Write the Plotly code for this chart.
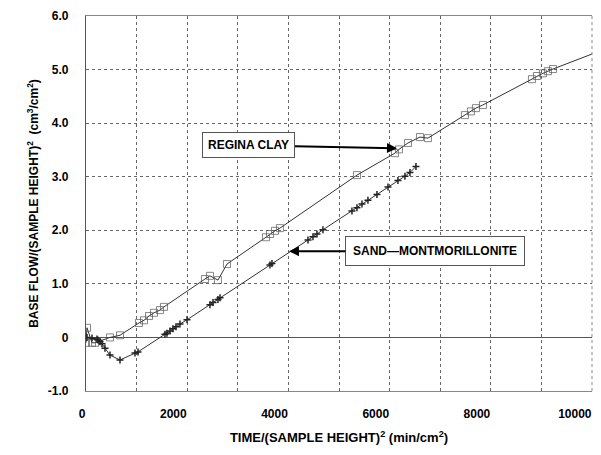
import plotly.graph_objects as go

# Regina clay: base flow normalised by sample height squared
clay_time = [0, 20, 119, 178, 474, 672, 1047, 1146, 1245, 1344, 1462, 1541,
             2351, 2450, 2608, 2786, 3557, 3636, 3735, 3833, 5355, 6106, 6185,
             6363, 6600, 6758, 7489, 7608, 7706, 7845, 8813, 8912, 9030, 9129,
             9228, 10000]
clay_flow = [-0.10, 0.18, -0.10, -0.10, 0.00, 0.04, 0.27, 0.32, 0.40, 0.46, 0.51,
             0.57, 1.09, 1.15, 1.07, 1.37, 1.87, 1.93, 1.99, 2.04, 3.03, 3.44,
             3.51, 3.63, 3.74, 3.72, 4.15, 4.22, 4.28, 4.34, 4.82, 4.88, 4.93,
             4.97, 5.01, 5.29]

# Sand-montmorillonite mixture
sand_time = [20, 119, 217, 237, 277, 316, 375, 474, 672, 968, 1028, 1561, 1601,
             1660, 1719, 1778, 1857, 1996, 2450, 2510, 2608, 2648, 3636, 3675,
             4387, 4486, 4565, 4683, 5256, 5355, 5454, 5572, 5750, 5968, 6165,
             6303, 6402, 6521]
sand_flow = [0.00, -0.01, -0.03, -0.05, -0.08, -0.12, -0.20, -0.33, -0.42, -0.29,
             -0.27, 0.06, 0.08, 0.12, 0.16, 0.20, 0.25, 0.33, 0.61, 0.65, 0.71,
             0.74, 1.35, 1.38, 1.82, 1.88, 1.93, 2.01, 2.36, 2.42, 2.49, 2.56,
             2.67, 2.81, 2.93, 3.01, 3.08, 3.19]

# grid every 1000, labels every 2000
x_ticks = [0, 1000, 2000, 3000, 4000, 5000, 6000, 7000, 8000, 9000, 10000]
x_tick_text = ["0", "", "2000", "", "4000", "", "6000", "", "8000", "", "10000"]
y_ticks = [-1, 0, 1, 2, 3, 4, 5, 6]
y_tick_text = ["-1.0", "0", "1.0", "2.0", "3.0", "4.0", "5.0", "6.0"]

FONT = "Liberation Sans, Arial, sans-serif"
INK = "#222222"
GRID = "#666666"

# the clay curve runs on to the right edge without a marker at its end
clay_sizes = [7] * (len(clay_time) - 1) + [0]

fig = go.Figure()
fig.add_trace(go.Scatter(
    x=clay_time, y=clay_flow, mode="lines+markers", name="REGINA CLAY",
    line=dict(color="#333333", width=1),
    marker=dict(symbol="square-open", size=clay_sizes, color="#555555",
                line=dict(width=1)),
))
fig.add_trace(go.Scatter(
    x=sand_time, y=sand_flow, mode="lines+markers", name="SAND-MONTMORILLONITE",
    line=dict(color="#333333", width=1),
    marker=dict(symbol="cross-thin", size=5, color=INK,
                line=dict(width=1.5, color=INK)),
))

fig.add_annotation(
    x=6146, y=3.53, xref="x", yref="y", text="<b>REGINA CLAY</b>",
    showarrow=True, arrowhead=2, arrowsize=1, arrowwidth=2, arrowcolor="black",
    ax=-148, ay=-3, bgcolor="white", bordercolor="#555555", borderwidth=1,
    borderpad=5, font=dict(family=FONT, size=12, color="black"),
)
fig.add_annotation(
    x=4011, y=1.61, xref="x", yref="y", text="<b>SAND\u2014MONTMORILLONITE</b>",
    showarrow=True, arrowhead=2, arrowsize=1, arrowwidth=2, arrowcolor="black",
    ax=146, ay=0, bgcolor="white", bordercolor="#555555", borderwidth=1,
    borderpad=7, font=dict(family=FONT, size=12, color="black"),
)

fig.update_layout(
    width=601, height=455,
    margin=dict(l=86, r=9, t=16, b=64),
    paper_bgcolor="white", plot_bgcolor="white",
    showlegend=False,
    font=dict(family=FONT, size=11, color="black"),
)
fig.update_xaxes(
    range=[0, 10000], tickvals=x_ticks, ticktext=x_tick_text,
    tickfont=dict(family=FONT, size=12, weight="bold"),
    ticklabelposition="outside left", automargin=False,
    showgrid=True, gridcolor=GRID, griddash="dot", gridwidth=1,
    zeroline=False, showline=True, linecolor="#888888", mirror=True,
    ticks="", ticklabelstandoff=12,
    title=dict(text="<b>TIME/(SAMPLE HEIGHT)<sup>2</sup> (min/cm<sup>2</sup>)</b>",
               font=dict(family=FONT, size=13), standoff=12),
)
fig.update_yaxes(
    range=[-1, 6], tickvals=y_ticks, ticktext=y_tick_text,
    tickfont=dict(family=FONT, size=12, weight="bold"),
    automargin=False,
    showgrid=True, gridcolor=GRID, griddash="dot", gridwidth=1,
    zeroline=True, zerolinecolor="#555555", zerolinewidth=1.2,
    showline=True, linecolor="#555555", linewidth=1.2, mirror=False,
    ticks="", ticklabelstandoff=14,
    title=dict(text="<b>BASE FLOW/(SAMPLE HEIGHT)<sup>2</sup>  (cm<sup>3</sup>/cm<sup>2</sup>)</b>",
               font=dict(family=FONT, size=12), standoff=6),
)
# dotted frame on the right
fig.add_shape(type="line", xref="paper", yref="paper", x0=1, x1=1, y0=0, y1=1,
              line=dict(color="#888888", width=1, dash="dot"))

fig.write_html("out.html")
